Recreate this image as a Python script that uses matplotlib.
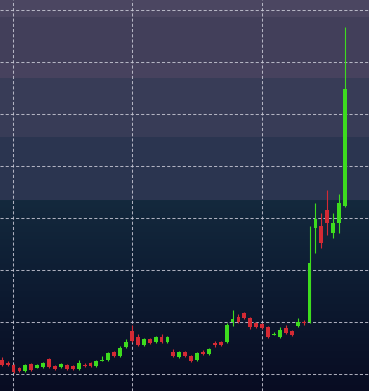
import numpy as np
import matplotlib
matplotlib.use("Agg")
import matplotlib.pyplot as plt
from matplotlib.colors import to_rgb

# ---- data (OHLC) ----
opens  = [12.69, 12.12, 11.73, 11.15, 10.58, 11.92, 11.15, 11.35, 12.88, 11.54,
          11.35, 11.73, 11.54, 10.96, 11.73, 12.12, 11.54, 12.50, 12.69, 14.23,
          13.46, 15.19, 18.27, 17.12, 15.58, 16.73, 16.15, 17.12, 16.15, 14.23,
          13.27, 14.23, 13.46, 12.69, 14.23, 13.85, 15.96, 16.15, 16.15, 20.00,
          20.96, 21.73, 20.77, 19.81, 19.62, 19.04, 17.50, 17.12, 18.85, 18.27,
          19.23, 19.90, 20.00, 38.08, 38.46, 41.54, 37.12, 39.04, 42.31]
highs  = [13.27, 12.50, 11.92, 11.35, 11.92, 12.12, 11.92, 12.31, 13.08, 11.73,
          12.12, 11.92, 11.73, 12.69, 12.12, 12.31, 12.69, 13.46, 14.23, 14.42,
          15.38, 16.73, 19.42, 17.69, 16.92, 16.92, 17.31, 17.69, 17.31, 14.81,
          14.42, 14.42, 13.65, 14.23, 14.62, 15.00, 16.35, 16.35, 19.81, 22.31,
          21.54, 21.92, 20.96, 20.00, 19.81, 19.23, 18.08, 19.04, 19.42, 18.46,
          20.77, 20.38, 38.46, 42.88, 40.96, 45.38, 40.96, 44.62, 76.73]
lows   = [11.54, 11.54, 10.19, 10.38, 10.38, 10.58, 11.06, 11.15, 11.15, 10.77,
          11.15, 10.77, 10.77, 10.77, 11.35, 11.35, 11.35, 12.50, 12.50, 13.27,
          13.27, 15.00, 16.15, 15.38, 15.38, 15.77, 15.96, 15.96, 15.96, 13.27,
          13.08, 13.27, 12.31, 12.50, 13.65, 13.65, 15.19, 15.38, 15.96, 19.23,
          19.81, 20.58, 18.65, 18.85, 18.65, 16.92, 17.50, 16.92, 17.69, 17.31,
          19.04, 19.42, 19.81, 33.27, 34.23, 36.73, 36.15, 37.12, 42.12]
closes = [11.73, 11.73, 10.38, 10.58, 11.73, 10.77, 11.73, 12.12, 11.35, 10.96,
          11.92, 10.96, 10.96, 12.12, 11.63, 11.54, 12.50, 12.69, 14.04, 13.46,
          15.00, 16.15, 16.35, 15.58, 16.73, 15.96, 17.12, 16.15, 17.12, 13.46,
          14.23, 13.46, 12.50, 14.04, 13.85, 14.81, 15.58, 15.58, 19.42, 20.58,
          20.00, 20.77, 19.04, 19.04, 18.85, 17.12, 17.69, 18.46, 17.88, 17.50,
          20.00, 19.81, 31.35, 39.81, 35.19, 39.04, 39.04, 42.88, 64.81]
price_grid = [10, 20, 30, 40, 50, 60, 70, 80]
time_grid = [1.9, 22.0, 44.0]

UP = "#3ddc1e"
DOWN = "#d42a34"

fig = plt.figure(figsize=(3.69, 3.91), dpi=100)
ax = fig.add_axes([0, 0, 1, 1])
ax.set_axis_off()

# ---- banded background ----
H = 391
stops = [(0, "#4b4661"), (17, "#423f5a"), (63, "#47425e"), (78, "#383c57"),
         (137, "#2b3550"), (200, "#14293d")]
rows = np.zeros((H, 1, 3))
for i in range(H):
    col = None
    for s, c in stops:
        if i >= s:
            col = np.array(to_rgb(c))
    if i >= 270:
        t = (i - 270) / (H - 270)
        a = np.array(to_rgb("#0e1e34")); b = np.array(to_rgb("#080c22"))
        col = a + (b - a) * t
    elif i >= 200:
        t = (i - 200) / 70
        a = np.array(to_rgb("#14293d")); b = np.array(to_rgb("#0e1e34"))
        col = a + (b - a) * t
    rows[i, 0] = col
ax.imshow(rows, extent=[0, 1, 0, 1], transform=ax.transAxes, aspect="auto",
          zorder=0, interpolation="nearest")

n = len(opens)
x = np.arange(n)
ax.set_xlim(-0.29, 62.05)
ax.set_ylim(6.73, 81.92)

for g in price_grid:
    ax.axhline(g, color="#c9c9d6", lw=0.75, ls=(0, (3, 2)), alpha=0.85, zorder=1)
for g in time_grid:
    ax.axvline(g, color="#c9c9d6", lw=0.75, ls=(0, (3, 2)), alpha=0.85, zorder=1)

w = 0.65
for i in range(n):
    o, h, l, c = opens[i], highs[i], lows[i], closes[i]
    col = UP if c >= o else DOWN
    ax.vlines(x[i], l, h, color=col, lw=0.8, zorder=2)
    bot = min(o, c); ht = max(abs(c - o), 0.18)
    ax.bar(x[i], ht, bottom=bot, width=w, color=col, edgecolor=col, lw=0, zorder=3)

fig.savefig("out.png", dpi=100)
